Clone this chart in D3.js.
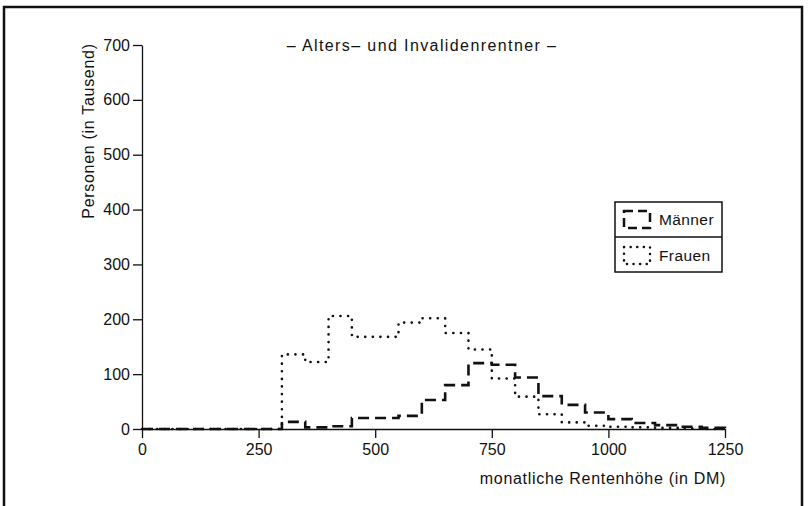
<!DOCTYPE html>
<html><head><meta charset="utf-8">
<script src="https://cdn.jsdelivr.net/npm/d3@7"></script>
<style>
body{margin:0;background:#fff;}
text{font-family:"Liberation Sans",Arial,sans-serif;fill:#111;}
</style></head><body>
<svg id="c" width="808" height="506"></svg>
<script>
const binStarts = [0,50,100,150,200,250,300,350,400,450,500,550,600,650,700,750,800,850,900,950,1000,1050,1100,1150,1200];
const binWidth = 50;
const maenner = [0,0,0,0,0,0,13,3,5,20,20,24,53,80,120,117,94,60,44,30,18,11,7,4,2];
const frauen  = [0,0,0,0,0,0,136,122,206,168,168,194,202,175,145,92,59,27,12,6,4,3,2,1,0];
const xTicks = [0,250,500,750,1000,1250];
const yTicks = [0,100,200,300,400,500,600,700];
const seriesNames = ["Männer","Frauen"];
const title = "– Alters– und Invalidenrentner –";
const xLabel = "monatliche Rentenhöhe (in DM)";
const yLabel = "Personen (in Tausend)";

const svg = d3.select("#c");
const x = d3.scaleLinear().domain([0,1250]).range([142,725]);
const y = d3.scaleLinear().domain([0,700]).range([429,45]);

// frame
svg.append("path").attr("d","M4,510 V7 H802 V510").attr("fill","none").attr("stroke","#111").attr("stroke-width",2.5);

// axes
const xa = svg.append("g").attr("transform","translate(0,429)")
  .call(d3.axisBottom(x).tickValues(xTicks).tickFormat(d3.format("d")).tickSize(9).tickSizeOuter(0).tickPadding(6));
const ya = svg.append("g").attr("transform","translate(142,0)")
  .call(d3.axisLeft(y).tickValues(yTicks).tickFormat(d3.format("d")).tickSize(9).tickSizeOuter(0).tickPadding(3));
[xa,ya].forEach(a=>{
  a.selectAll("path,line").attr("stroke","#111").attr("stroke-width",1.3);
  a.selectAll("text").attr("font-size",16).attr("font-family","Liberation Sans,Arial,sans-serif").attr("fill","#111");
});

// histogram step lines
function pts(vals){
  const p = binStarts.map((b,i)=>[b,vals[i]]);
  p.push([binStarts[binStarts.length-1]+binWidth, vals[vals.length-1]]);
  p.push([binStarts[binStarts.length-1]+binWidth, 0]);
  return p;
}
const line = d3.line().x(d=>x(d[0])).y(d=>y(d[1])).curve(d3.curveStepAfter);
svg.append("path").attr("d",line(pts(frauen))).attr("fill","none").attr("stroke","#111")
  .attr("stroke-width",2.6).attr("stroke-dasharray","0.1 7.5").attr("stroke-linecap","round");
svg.append("path").attr("d",line(pts(maenner))).attr("fill","none").attr("stroke","#111")
  .attr("stroke-width",2.6).attr("stroke-dasharray","11 6");

// title & labels
svg.append("text").attr("x",422).attr("y",51).attr("text-anchor","middle").attr("font-size",16).attr("letter-spacing",1.4).text(title);
svg.append("text").attr("x",726).attr("y",484).attr("text-anchor","end").attr("font-size",16).attr("letter-spacing",0.7).text(xLabel);
svg.append("text").attr("transform","translate(94,131) rotate(-90)").attr("text-anchor","middle").attr("font-size",16).attr("letter-spacing",0.7).text(yLabel);

// legend
const lg = svg.append("g");
lg.append("rect").attr("x",615).attr("y",202).attr("width",107).attr("height",70).attr("fill","#fff").attr("stroke","#111").attr("stroke-width",1.5);
lg.append("line").attr("x1",615).attr("x2",722).attr("y1",237).attr("y2",237).attr("stroke","#111").attr("stroke-width",1.5);
lg.append("rect").attr("x",624).attr("y",211).attr("width",26).attr("height",17).attr("fill","none").attr("stroke","#111")
  .attr("stroke-width",2.5).attr("stroke-dasharray","9 5");
lg.append("rect").attr("x",624).attr("y",247).attr("width",26).attr("height",17).attr("fill","none").attr("stroke","#111")
  .attr("stroke-width",2.5).attr("stroke-dasharray","0.1 6.5").attr("stroke-linecap","round");
lg.append("text").attr("x",659).attr("y",225).attr("font-size",15.5).attr("letter-spacing",0.4).text(seriesNames[0]);
lg.append("text").attr("x",659).attr("y",261).attr("font-size",15.5).attr("letter-spacing",0.4).text(seriesNames[1]);
</script>
</body></html>
